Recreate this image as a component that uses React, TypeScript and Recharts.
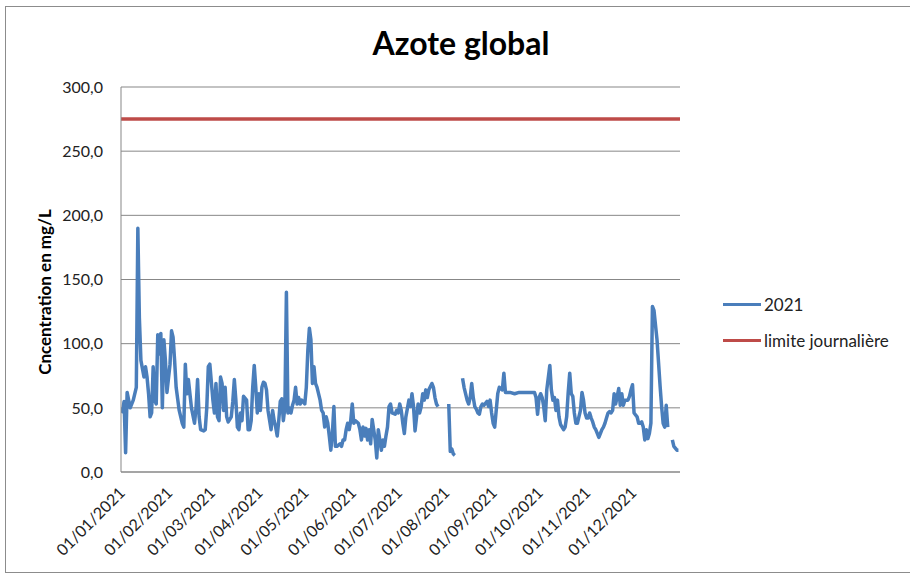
import React from 'react';
import { LineChart, Line, XAxis, YAxis, CartesianGrid, Legend } from 'recharts';

const chartTitle = 'Azote global';
const yAxisTitle = 'Cncentration en mg/L';
const seriesName = '2021';
const limitName = 'limite journalière';
const limitValue = 275;

const monthTicks = [0, 31, 59, 90, 120, 151, 181, 212, 243, 273, 304, 334];
const monthLabels = [
  '01/01/2021', '01/02/2021', '01/03/2021', '01/04/2021', '01/05/2021', '01/06/2021',
  '01/07/2021', '01/08/2021', '01/09/2021', '01/10/2021', '01/11/2021', '01/12/2021',
];
const yTicks = [0, 50, 100, 150, 200, 250, 300];

// [day of year (0 = 01/01), concentration]; null = no measurement
const q1: [number, number | null][] = [
  [0, 50], [1, 47], [2, 55], [3, 15], [4, 62], [6, 50], [8, 56], [10, 66], [11, 190], [12, 120],
  [13, 87], [15, 74], [16, 82], [17, 74], [18, 61], [19, 43], [20, 46], [21, 82], [22, 56], [23, 53],
  [24, 107], [25, 92], [26, 108], [27, 50], [28, 103], [29, 87], [30, 62], [32, 84], [33, 110], [34, 105],
  [35, 87], [36, 66], [38, 48], [40, 38], [41, 35], [42, 84], [43, 61], [44, 72], [45, 61], [46, 50],
  [48, 38], [49, 50], [50, 72], [51, 43], [52, 33], [54, 32], [55, 33], [56, 50], [57, 82], [58, 84],
  [59, 70], [60, 56], [61, 46], [62, 69], [63, 43], [64, 40], [65, 74], [66, 69], [67, 48], [68, 66],
  [69, 43], [70, 39], [72, 43], [73, 55], [74, 72], [75, 56], [76, 35], [77, 33], [78, 46], [79, 40],
  [80, 59], [82, 56], [83, 33], [84, 33], [85, 40], [86, 66], [87, 83], [88, 66], [89, 46],
];
const q2: [number, number | null][] = [
  [90, 61], [91, 48], [92, 66], [93, 70], [94, 69], [95, 64], [96, 48], [98, 33], [99, 48], [100, 40],
  [101, 35], [102, 28], [103, 40], [104, 55], [105, 57], [106, 40], [107, 50], [108, 140], [109, 46], [110, 50],
  [111, 46], [112, 52], [113, 56], [114, 66], [115, 53], [116, 58], [117, 53], [118, 56], [120, 53], [121, 66],
  [122, 95], [123, 112], [124, 103], [125, 69], [126, 82], [127, 69], [128, 66], [130, 56], [131, 48], [132, 46],
  [133, 35], [134, 43], [135, 38], [136, 28], [137, 17], [138, 30], [139, 51], [140, 20], [141, 20], [143, 22],
  [144, 20], [145, 25], [146, 25], [147, 33], [148, 38], [149, 33], [150, 40], [151, 53], [152, 38], [153, 40],
  [155, 38], [156, 33], [157, 25], [158, 35], [159, 28], [160, 34], [161, 25], [162, 33], [163, 22], [164, 41],
  [165, 33], [166, 25], [167, 11], [168, 33], [169, 25], [170, 17], [171, 25], [172, 20], [173, 28], [174, 35],
  [175, 51], [176, 53], [177, 46], [179, 45], [180, 48],
];
const q3: [number, number | null][] = [
  [181, 46], [182, 53], [183, 48], [184, 38], [185, 30], [186, 43], [188, 56], [189, 51], [190, 61], [191, 51],
  [192, 32], [193, 43], [194, 53], [195, 46], [196, 51], [197, 61], [198, 56], [199, 64], [200, 58], [201, 64],
  [203, 69], [204, 66], [205, 58], [206, 53], [207, 51], [210, null], [214, 53], [215, 16], [216, 18], [217, 14],
  [218, 13], [220, null], [223, 73], [224, 66], [226, 56], [227, 53], [228, 58], [229, 69], [230, 58], [231, 51],
  [232, 49], [233, 46], [234, 45], [235, 51], [236, 53], [237, 52], [239, 55], [240, 51], [241, 56], [242, 46],
  [243, 38], [244, 35], [245, 48], [246, 61], [247, 66], [248, 65], [249, 64], [250, 77], [251, 62], [254, 62],
  [257, 61], [260, 62], [264, 62], [267, 62], [270, 62], [271, 58], [272, 45],
];
const q4: [number, number | null][] = [
  [273, 58], [274, 61], [275, 58], [276, 51], [277, 40], [278, 64], [280, 83], [281, 64], [282, 56], [283, 58],
  [284, 48], [285, 56], [286, 43], [287, 37], [288, 35], [289, 33], [290, 35], [291, 43], [292, 62], [293, 77],
  [294, 61], [295, 59], [296, 46], [297, 38], [298, 38], [300, 48], [301, 62], [302, 56], [303, 46], [304, 42],
  [305, 42], [306, 46], [307, 42], [308, 39], [309, 35], [310, 33], [312, 27], [313, 30], [314, 33], [315, 35],
  [316, 38], [317, 42], [318, 46], [319, 47], [320, 46], [321, 48], [322, 61], [323, 53], [325, 65], [326, 52],
  [327, 61], [328, 52], [329, 56], [331, 56], [332, 59], [333, 64], [334, 68], [335, 46], [337, 43], [338, 38],
  [339, 38], [340, 39], [341, 35], [342, 25], [343, 33], [344, 26], [345, 30], [346, 38], [347, 129], [348, 126],
  [350, 103], [351, 85], [352, 67], [353, 51], [354, 38], [355, 35], [356, 52], [357, 35], [358, null], [360, 25],
  [361, 20], [363, 17], [364, 17],
];

const series2021 = [...q1, ...q2, ...q3, ...q4].map(([day, v]) => ({ day, v }));
const limitData = [{ day: 0, limit: limitValue }, { day: 365, limit: limitValue }];

const BLUE = '#4A7EBB';
const RED = '#BE4B48';
const GRID = '#878787';
const TEXT = '#222';
const FONT = 'Lato, "Open Sans", sans-serif';

const fmtY = (v: number) => v.toFixed(1).replace('.', ',');

const XTick = (props: any) => {
  const { x, y, payload } = props;
  const i = monthTicks.indexOf(payload.value);
  return (
    <g transform={`translate(${x},${y})`}>
      <text x={5} y={16} transform="rotate(-45 5 16)" textAnchor="end" fontSize={16} fill={TEXT} fontFamily={FONT}>
        {monthLabels[i]}
      </text>
    </g>
  );
};

const LegendContent = (props: any) => {
  const { payload } = props;
  return (
    <div style={{ fontFamily: FONT, fontSize: 17, color: TEXT }}>
      {(payload || []).map((it: any) => (
        <div key={it.value} style={{ display: 'flex', alignItems: 'center', height: 36 }}>
          <span style={{ display: 'inline-block', width: 38, height: 3, background: it.color, marginRight: 3 }} />
          <span>{it.value}</span>
        </div>
      ))}
    </div>
  );
};

export default function App() {
  return (
    <div style={{ position: 'absolute', left: 0, top: 0, width: 910, height: 576, background: '#fff', overflow: 'hidden' }}>
      <div style={{ position: 'absolute', left: 5, top: 6, width: 910, height: 567, border: '1px solid #8c8c8c', boxSizing: 'border-box' }} />
      <div style={{ position: 'absolute', left: 311, top: 27, width: 300, textAlign: 'center', fontFamily: FONT, fontWeight: 700, fontSize: 32, lineHeight: '32px', color: '#000' }}>
        {chartTitle}
      </div>
      <div style={{ position: 'absolute', left: 0, top: 0 }}>
        <LineChart width={910} height={576} margin={{ top: 87, right: 230, bottom: 0, left: 0 }} style={{ fontFamily: FONT }}>
          <CartesianGrid vertical={false} stroke={GRID} strokeWidth={1} />
          <XAxis
            dataKey="day"
            type="number"
            domain={[0, 365]}
            ticks={monthTicks}
            interval={0}
            height={104}
            tickLine={false}
            tickMargin={0}
            axisLine={{ stroke: GRID }}
            tick={<XTick />}
            allowDataOverflow
          />
          <YAxis
            type="number"
            domain={[0, 300]}
            ticks={yTicks}
            width={121}
            tickLine={false}
            tickMargin={12}
            axisLine={{ stroke: GRID }}
            tickFormatter={fmtY}
            tick={{ fontSize: 16, fill: TEXT, fontFamily: FONT }}
            label={{
              content: () => (
                <text x={51} y={292} transform="rotate(-90 51 292)" textAnchor="middle" fontSize={17} fontWeight={700} fill="#000" fontFamily={FONT}>
                  {yAxisTitle}
                </text>
              ),
            }}
          />
          <Line data={series2021} dataKey="v" name={seriesName} stroke={BLUE} strokeWidth={3.5} strokeLinejoin="round" dot={false} isAnimationActive={false} connectNulls={false} />
          <Line data={limitData} dataKey="limit" name={limitName} stroke={RED} strokeWidth={3.5} dot={false} isAnimationActive={false} />
          <Legend
            layout="vertical"
            align="center"
            verticalAlign="middle"
            wrapperStyle={{ left: 723, top: 286, width: 190 }}
            content={<LegendContent />}
          />
        </LineChart>
      </div>
    </div>
  );
}
